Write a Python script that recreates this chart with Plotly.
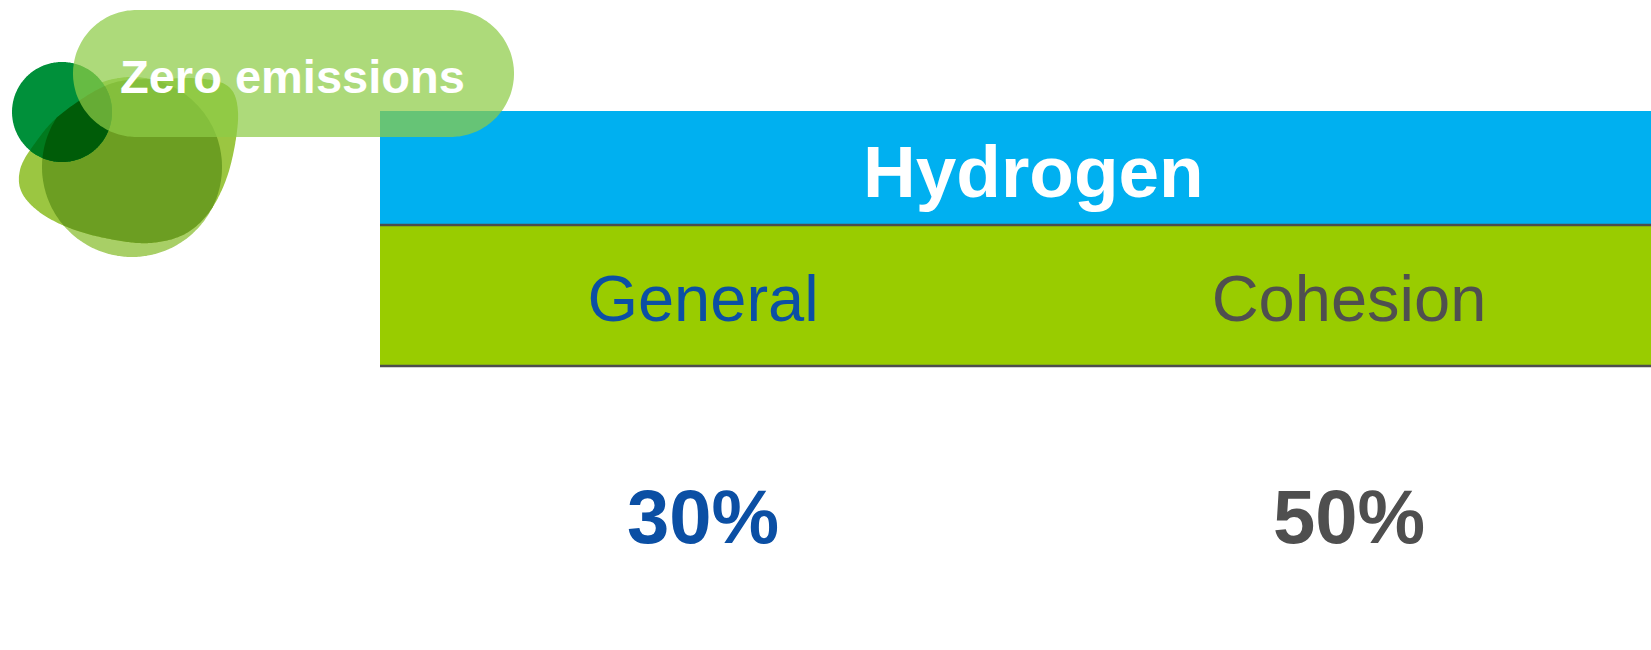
import numpy as np
import plotly.graph_objects as go

# ---------------- data ----------------
title_text = "Hydrogen"
badge_text = "Zero emissions"
categories = ["General", "Cohesion"]
values = [30, 50]
value_suffix = "%"
category_colors = ["#0b4fa4", "#4f4f4f"]

# ---------------- style / geometry ----------------
W, H = 1651, 650
FONT = "Arial, 'Liberation Sans', sans-serif"
BLUE = "#00b0f0"
GREEN = "#99cc00"
LINE = "#4d4d4d"
TABLE_L = 380
HDR_T, HDR_B = 111, 225
SUB_B = 366
ROW_HDR_Y = 171
ROW_CAT_Y = 305
ROW_VAL_Y = 524
COL0_PX, COL_STEP_PX = 703, 646

# logo outline control points (decorative)
BLOB_PTS = [(110, 84), (160, 79), (205, 79), (230, 88), (238, 112), (234, 150), (224, 185),
            (207, 215), (183, 235), (150, 243), (115, 240), (75, 230), (42, 214),
            (22, 193), (20, 170), (33, 146), (60, 115)]


def circle(cx, cy, r, n=360):
    t = np.linspace(0, 2 * np.pi, n, endpoint=False)
    return np.c_[cx + r * np.cos(t), cy + r * np.sin(t)]


def catmull_closed(pts, k=24):
    P = np.array(pts, float)
    n = len(P)
    out = []
    for i in range(n):
        p0, p1, p2, p3 = P[(i - 1) % n], P[i], P[(i + 1) % n], P[(i + 2) % n]
        for t in np.linspace(0, 1, k, endpoint=False):
            t2, t3 = t * t, t * t * t
            out.append(0.5 * ((2 * p1) + (-p0 + p2) * t + (2 * p0 - 5 * p1 + 4 * p2 - p3) * t2
                              + (-p0 + 3 * p1 - 3 * p2 + p3) * t3))
    return np.array(out)


def inside(poly, pts):
    res = np.ones(len(pts), bool)
    nxt = np.roll(poly, -1, axis=0)
    cen = poly.mean(axis=0)
    for a, b in zip(poly, nxt):
        cr = (b[0] - a[0]) * (pts[:, 1] - a[1]) - (b[1] - a[1]) * (pts[:, 0] - a[0])
        ref = (b[0] - a[0]) * (cen[1] - a[1]) - (b[1] - a[1]) * (cen[0] - a[0])
        res &= (cr * np.sign(ref)) >= -1e-6
    return res


def intersect(P, Q):
    pts = np.vstack([P[inside(Q, P)], Q[inside(P, Q)]])
    if len(pts) < 3:
        return None
    c = pts.mean(axis=0)
    ang = np.arctan2(pts[:, 1] - c[1], pts[:, 0] - c[0])
    return pts[np.argsort(ang)]


def to_path(poly):
    return "M " + " L ".join(f"{x:.1f},{y:.1f}" for x, y in poly) + " Z"


def pill(x0, x1, y0, y1, n=90):
    r = (y1 - y0) / 2
    cy = (y0 + y1) / 2
    t1 = np.linspace(-np.pi / 2, np.pi / 2, n)
    right = np.c_[x1 - r + r * np.cos(t1), cy + r * np.sin(t1)]
    t2 = np.linspace(np.pi / 2, 3 * np.pi / 2, n)
    left = np.c_[x0 + r + r * np.cos(t2), cy + r * np.sin(t2)]
    return np.vstack([right, left])


def pshape(poly, color):
    return dict(type="path", path=to_path(poly), xref="x2", yref="y",
                fillcolor=color, line=dict(width=0), layer="below")


# logo blobs
A = catmull_closed(BLOB_PTS)
B = circle(132, 167, 90)
C = circle(62, 112, 50)
AB = intersect(A, B)
CA = intersect(C, A)
CAB = intersect(CA, B) if CA is not None else None

shapes = [
    dict(type="rect", xref="x2", yref="y", x0=TABLE_L, x1=W, y0=HDR_T, y1=HDR_B,
         fillcolor=BLUE, line=dict(width=0), layer="below"),
    dict(type="rect", xref="x2", yref="y", x0=TABLE_L, x1=W, y0=HDR_B, y1=SUB_B,
         fillcolor=GREEN, line=dict(width=0), layer="below"),
    dict(type="line", xref="x2", yref="y", x0=TABLE_L, x1=W, y0=HDR_B, y1=HDR_B,
         line=dict(color=LINE, width=2.5), layer="below"),
    dict(type="line", xref="x2", yref="y", x0=TABLE_L, x1=W, y0=SUB_B, y1=SUB_B,
         line=dict(color=LINE, width=2.5), layer="below"),
    pshape(B, "#a8cf66"),
    pshape(A, "#9bc641"),
    pshape(AB, "#6c9e22"),
    pshape(C, "#00903a"),
]
if CA is not None:
    shapes.append(pshape(CA, "#007a1e"))
if CAB is not None:
    shapes.append(pshape(CAB, "#005c08"))
shapes.append(pshape(pill(73, 514, 10, 137), "rgba(141,204,70,0.72)"))

fig = go.Figure()
fig.add_trace(go.Scatter(x=[0, W], y=[0, H], xaxis="x2", yaxis="y", mode="markers",
                         marker=dict(opacity=0), hoverinfo="skip", showlegend=False))
fig.add_trace(go.Scatter(x=categories, y=[ROW_CAT_Y] * len(categories), mode="text",
                         text=categories, textposition="middle center",
                         textfont=dict(family=FONT, size=65, color=category_colors),
                         hoverinfo="skip", showlegend=False))
fig.add_trace(go.Scatter(x=categories, y=[ROW_VAL_Y] * len(categories), mode="text",
                         text=[f"<b>{v}{value_suffix}</b>" for v in values],
                         textposition="middle center",
                         textfont=dict(family=FONT, size=76, color=category_colors),
                         hoverinfo="skip", showlegend=False))

annotations = [
    dict(x=1033, y=ROW_HDR_Y, xref="x2", yref="y", text=f"<b>{title_text}</b>",
         showarrow=False, font=dict(family=FONT, size=73, color="white"),
         xanchor="center", yanchor="middle"),
    dict(x=292, y=76, xref="x2", yref="y", text=f"<b>{badge_text}</b>",
         showarrow=False, font=dict(family=FONT, size=47, color="white"),
         xanchor="center", yanchor="middle"),
]

x_lo = -COL0_PX / COL_STEP_PX
x_hi = (W - COL0_PX) / COL_STEP_PX
fig.update_layout(
    width=W, height=H, margin=dict(l=0, r=0, t=0, b=0),
    paper_bgcolor="white", plot_bgcolor="white",
    shapes=shapes, annotations=annotations, showlegend=False,
    xaxis=dict(type="category", range=[x_lo, x_hi], visible=False, fixedrange=True),
    xaxis2=dict(range=[0, W], overlaying="x", visible=False, fixedrange=True),
    yaxis=dict(range=[H, 0], visible=False, fixedrange=True),
)
fig.write_html("out.html", config={"displayModeBar": False},
               post_script="document.body.style.margin='0';document.body.style.overflow='hidden';")
